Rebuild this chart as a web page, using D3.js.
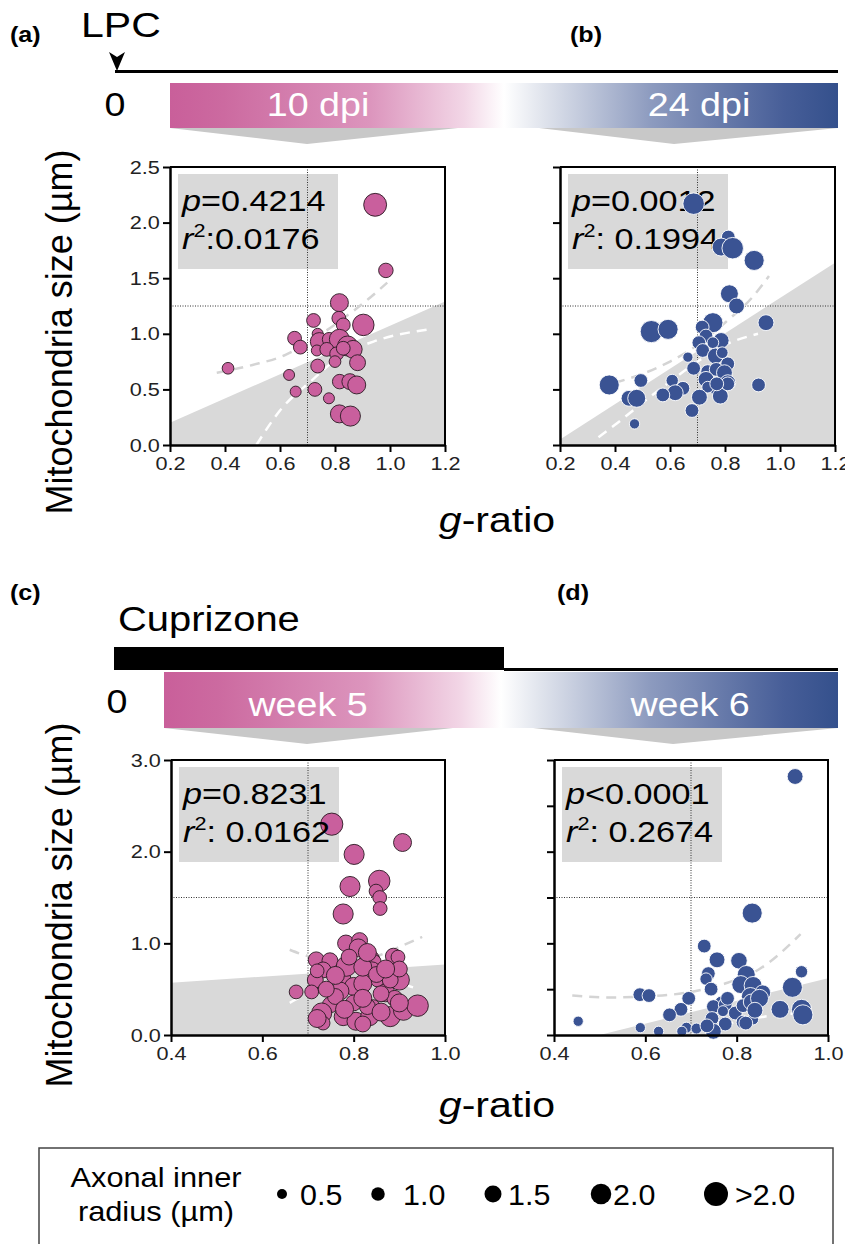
<!DOCTYPE html>
<html>
<head>
<meta charset="utf-8">
<script src="https://cdn.jsdelivr.net/npm/d3@7"></script>
<style>
body { margin: 0; background: #fff; }
svg { display: block; font-family: "Liberation Sans", Arial, sans-serif; }
</style>
</head>
<body>
<script>
// ---- data: [g-ratio, mitochondria size (µm), axonal inner radius (µm)]
const ptsA = [
  [0.946,2.16,2.2],[0.985,1.57,1.0],[0.816,1.28,1.5],[0.814,1.14,0.9],[0.83,1.08,0.9],
  [0.903,1.08,2.0],[0.722,1.12,0.9],[0.737,1.00,0.5],[0.653,0.96,0.9],[0.674,0.88,0.9],
  [0.743,0.93,1.5],[0.779,0.95,0.9],[0.816,0.95,1.8],[0.846,0.89,1.8],[0.866,0.86,1.5],
  [0.734,0.85,0.5],[0.770,0.86,0.9],[0.806,0.82,0.9],[0.800,0.75,0.6],[0.737,0.71,0.9],
  [0.882,0.74,1.2],[0.83,0.87,0.9],[0.633,0.63,0.5],[0.817,0.57,1.0],[0.854,0.57,1.2],
  [0.879,0.54,1.5],[0.657,0.48,0.5],[0.727,0.50,0.9],[0.778,0.42,0.5],[0.816,0.28,1.5],
  [0.856,0.26,1.8],[0.411,0.69,0.6]
];
const ptsB = [
  [0.686,2.17,2.0],[0.812,1.87,0.9],[0.786,1.78,1.5],[0.828,1.77,2.0],[0.906,1.66,1.8],
  [0.816,1.36,1.5],[0.842,1.25,1.2],[0.949,1.10,1.2],[0.532,1.02,2.1],[0.593,1.04,1.8],
  [0.756,1.10,1.8],[0.717,1.06,0.9],[0.731,0.98,0.9],[0.786,0.94,1.2],[0.705,0.92,0.9],
  [0.719,0.85,0.9],[0.756,0.92,0.6],[0.765,0.80,1.2],[0.665,0.79,0.4],[0.686,0.69,0.9],
  [0.810,0.73,0.9],[0.737,0.66,0.9],[0.768,0.68,0.9],[0.798,0.65,1.2],[0.731,0.59,1.2],
  [0.810,0.56,1.2],[0.768,0.51,0.9],[0.737,0.52,0.6],[0.783,0.44,1.2],[0.810,0.55,0.9],
  [0.707,0.43,1.2],[0.680,0.31,0.9],[0.608,0.58,0.7],[0.647,0.51,0.9],[0.619,0.47,1.2],
  [0.574,0.45,0.9],[0.494,0.58,0.9],[0.451,0.42,1.2],[0.479,0.42,1.5],[0.379,0.54,1.8],
  [0.471,0.19,0.4],[0.922,0.54,0.9],[0.790,0.83,0.6],[0.770,0.55,0.9]
];
const ptsC = [
  [0.752,2.30,2.1],[0.907,2.10,1.5],[0.801,1.97,1.8],[0.792,1.62,1.8],[0.856,1.68,2.0],
  [0.849,1.57,0.9],[0.857,1.50,0.9],[0.858,1.38,0.9],[0.777,1.32,1.8],[0.783,1.00,1.3],
  [0.813,1.03,1.2],[0.810,0.95,1.5],[0.718,0.82,1.2],[0.748,0.81,1.2],[0.733,0.71,1.2],
  [0.716,0.60,1.2],[0.708,0.47,0.9],[0.674,0.47,0.9],[0.776,0.61,1.3],[0.784,0.75,1.8],
  [0.835,0.82,1.8],[0.845,0.80,0.9],[0.887,0.86,1.2],[0.897,0.85,0.9],[0.852,0.60,0.9],
  [0.900,0.60,1.8],[0.810,0.46,0.9],[0.840,0.70,1.5],[0.870,0.46,1.5],[0.800,0.53,1.5],
  [0.749,0.33,1.2],[0.730,0.24,1.8],[0.733,0.13,0.9],[0.777,0.20,1.5],[0.720,0.18,1.5],
  [0.805,0.15,1.5],[0.843,0.31,0.9],[0.835,0.20,1.5],[0.880,0.20,1.8],[0.909,0.27,1.8],
  [0.940,0.32,2.0],[0.890,0.40,1.2],[0.820,0.56,1.5],[0.770,0.48,1.5],[0.820,0.74,1.5],
  [0.760,0.42,1.2],[0.860,0.45,1.2],[0.830,0.31,1.2],[0.800,0.35,1.2],[0.760,0.65,1.5],
  [0.880,0.60,1.2],[0.830,0.90,1.5],[0.790,0.85,1.2],[0.850,0.66,1.2],[0.740,0.50,1.2],
  [0.780,0.28,1.5],[0.860,0.25,1.5],[0.820,0.12,1.2],[0.900,0.72,1.2],[0.870,0.72,1.5],
  [0.720,0.70,0.9],[0.820,0.40,1.5],[0.900,0.35,1.5]
];
const ptsD = [
  [0.928,2.82,1.2],[0.834,1.33,1.8],[0.729,0.97,0.9],[0.757,0.82,1.2],[0.805,0.81,1.3],
  [0.821,0.66,1.5],[0.942,0.69,0.7],[0.738,0.67,0.9],[0.733,0.61,0.7],[0.809,0.55,1.5],
  [0.836,0.54,1.5],[0.857,0.46,1.2],[0.922,0.52,1.8],[0.744,0.50,0.9],[0.830,0.42,1.5],
  [0.588,0.44,0.9],[0.608,0.43,0.9],[0.695,0.40,0.9],[0.678,0.28,0.9],[0.653,0.22,0.9],
  [0.767,0.35,0.9],[0.749,0.31,0.9],[0.775,0.33,0.9],[0.797,0.24,0.9],[0.814,0.32,0.9],
  [0.832,0.36,1.2],[0.895,0.28,1.5],[0.942,0.28,1.8],[0.945,0.22,1.8],[0.770,0.26,0.5],
  [0.746,0.18,0.9],[0.775,0.12,0.9],[0.814,0.14,0.9],[0.836,0.17,0.5],[0.690,0.08,0.5],
  [0.712,0.07,0.5],[0.749,0.04,1.2],[0.680,0.04,0.4],[0.629,0.04,0.4],[0.589,0.08,0.4],
  [0.453,0.15,0.4],[0.735,0.10,0.9],[0.820,0.13,0.9],[0.780,0.40,0.9],[0.850,0.40,1.5],
  [0.840,0.27,1.2]
];

// grey shaded region (upper edge)
const shadeA = [[0.2,0.20],[1.2,1.29]];
const shadeB = [[0.2,0.05],[1.2,1.64]];
const shadeC = [[0.4,0.57],[1.0,0.77]];
const shadeD = [[0.5,0.00],[1.0,0.62]];

// dashed confidence bands
const ciUpA = [[0.37,0.65],[0.5,0.72],[0.62,0.81],[0.72,0.95],[0.82,1.12],[0.92,1.31],[0.99,1.46]];
const ciLoA = [[0.514,0.0],[0.6,0.31],[0.72,0.59],[0.82,0.80],[0.94,0.93],[1.14,1.04]];
const ciUpB = [[0.40,0.56],[0.5,0.64],[0.6,0.75],[0.7,0.9],[0.8,1.1],[0.9,1.33],[0.96,1.52]];
const ciLoB = [[0.34,0.07],[0.42,0.22],[0.5,0.38],[0.6,0.57],[0.7,0.75],[0.8,0.9],[0.92,1.0]];
const ciUpC = [[0.66,0.93],[0.7,0.86],[0.75,0.82],[0.8,0.82],[0.85,0.86],[0.9,0.96],[0.95,1.07]];
const ciLoC = [[0.66,0.35],[0.72,0.5],[0.8,0.58],[0.87,0.58],[0.93,0.52]];
const ciUpD = [[0.44,0.43],[0.52,0.41],[0.6,0.42],[0.7,0.47],[0.78,0.57],[0.85,0.72],[0.94,1.1]];
const ciLoD = [[0.70,0.0],[0.78,0.12],[0.86,0.2],[0.94,0.24]];

const xTicksTop = [0.2,0.4,0.6,0.8,1.0,1.2];
const yTicksTop = [0,0.5,1.0,1.5,2.0,2.5];
const xTicksBot = [0.4,0.6,0.8,1.0];
const yTicksC = [0,1,2,3];
const yTicksD = [0,0.5,1.0,1.5,2.0,2.5,3.0];

const stats = [
  {p: "=0.4214", r: ":0.0176"},
  {p: "=0.0012", r: ": 0.1994"},
  {p: "=0.8231", r: ": 0.0162"},
  {p: "<0.0001", r: ": 0.2674"}
];

const timeLabelsTop = ["10 dpi", "24 dpi"];
const timeLabelsBot = ["week 5", "week 6"];

const legendValues = [0.5, 1.0, 1.5, 2.0, 2.5];
const legendLabels = ["0.5", "1.0", "1.5", "2.0", ">2.0"];

// ---- styles
const pink = "#c95f9d", blue = "#3a5393", shadeGrey = "#d9d9d9";
const SX = 1.14; // horizontal stretch of the original lettering

const svg = d3.select("body").append("svg")
  .attr("width", 845).attr("height", 1244);
const defs = svg.append("defs");

const rScale = d3.scaleLinear().domain([0.5, 2.5]).range([5.5, 12.5]);

// horizontal text helper
function htext(parent, x, y, size, anchor) {
  return parent.append("text")
    .attr("transform", `translate(${x},${y}) scale(${SX},1)`)
    .attr("text-anchor", anchor || "start")
    .style("font-size", size + "px");
}

//Gradient for time bars
const grad = defs.append("linearGradient").attr("id", "timegrad");
[[0, "#c95f9a"], [0.08, "#cc6aa0"], [0.3, "#dc95bd"], [0.44, "#f2d6e6"], [0.5, "#ffffff"],
 [0.56, "#dfe3ec"], [0.72, "#8d9bbf"], [0.92, "#475e98"], [1, "#34508c"]]
  .forEach(s => grad.append("stop").attr("offset", s[0]).attr("stop-color", s[1]));

function timeBar(y0, y1, x0, labels, centers, apexes, chevX) {
  svg.append("rect").attr("x", x0).attr("y", y0).attr("width", 838 - x0).attr("height", y1 - y0)
    .attr("fill", "url(#timegrad)");
  labels.forEach((t, i) => {
    htext(svg, centers[i], y1 - 12, 33, "middle").attr("fill", "#fff").text(t);
  });
  chevX.forEach((c, i) => {
    svg.append("path")
      .attr("d", `M${c[0]},${y1} L${c[1]},${y1} L${apexes[i]},${y1 + 16} Z`)
      .attr("fill", "#c8c8c8");
  });
}

//Header top
htext(svg, 10, 42, 22).style("font-weight", "bold").text("(a)");
htext(svg, 570, 42, 22).style("font-weight", "bold").text("(b)");
htext(svg, 81, 37, 36).text("LPC");
svg.append("path").attr("d", "M109,52 L117,57 L125,52 L117,71 Z").attr("fill", "#000");
svg.append("line").attr("x1", 115).attr("x2", 838).attr("y1", 71.5).attr("y2", 71.5)
  .attr("stroke", "#000").attr("stroke-width", 3);
htext(svg, 115, 116, 33, "middle").text("0");
timeBar(83, 128, 170, timeLabelsTop, [318, 699], [307, 674], [[170, 458], [539, 838]]);

//Header bottom
htext(svg, 10, 600, 22).style("font-weight", "bold").text("(c)");
htext(svg, 557, 600, 22).style("font-weight", "bold").text("(d)");
htext(svg, 118, 631, 35).text("Cuprizone");
svg.append("rect").attr("x", 114).attr("y", 647).attr("width", 390).attr("height", 23).attr("fill", "#000");
svg.append("line").attr("x1", 504).attr("x2", 838).attr("y1", 669.5).attr("y2", 669.5)
  .attr("stroke", "#000").attr("stroke-width", 3);
htext(svg, 117, 713, 33, "middle").text("0");
timeBar(672, 728, 164, timeLabelsBot, [308, 690], [307, 673], [[164, 453], [533, 838]]);

// ---- panels
const panels = [
  {id: "a", pts: ptsA, left: 170, right: 445, top: 167, bottom: 445, xDom: [0.2, 1.2], yDom: [0, 2.5],
   xTicks: xTicksTop, yTicks: yTicksTop, yLab: true, vLine: 0.7, hLine: 1.25, shade: shadeA,
   ciUp: ciUpA, ciLo: ciLoA, fill: pink, stroke: "#2a1a22", st: stats[0], textTop: false},
  {id: "b", pts: ptsB, left: 560, right: 835, top: 167, bottom: 445, xDom: [0.2, 1.2], yDom: [0, 2.5],
   xTicks: xTicksTop, yTicks: yTicksTop, yLab: false, vLine: 0.7, hLine: 1.25, shade: shadeB,
   ciUp: ciUpB, ciLo: ciLoB, fill: blue, stroke: "#fff", st: stats[1], textTop: false},
  {id: "c", pts: ptsC, left: 171, right: 445, top: 760, bottom: 1035, xDom: [0.4, 1.0], yDom: [0, 3],
   xTicks: xTicksBot, yTicks: yTicksC, yLab: true, vLine: 0.7, hLine: 1.5, shade: shadeC,
   ciUp: ciUpC, ciLo: ciLoC, fill: pink, stroke: "#2a1a22", st: stats[2], textTop: true},
  {id: "d", pts: ptsD, left: 554, right: 828, top: 760, bottom: 1035, xDom: [0.4, 1.0], yDom: [0, 3],
   xTicks: xTicksBot, yTicks: yTicksD, yLab: false, vLine: 0.7, hLine: 1.5, shade: shadeD,
   ciUp: ciUpD, ciLo: ciLoD, fill: blue, stroke: "#fff", st: stats[3], textTop: false}
];

panels.forEach(p => {
  const x = d3.scaleLinear().domain(p.xDom).range([p.left, p.right]);
  const y = d3.scaleLinear().domain(p.yDom).range([p.bottom, p.top]);
  const g = svg.append("g");

  defs.append("clipPath").attr("id", "clip-" + p.id).append("rect")
    .attr("x", p.left).attr("y", p.top).attr("width", p.right - p.left).attr("height", p.bottom - p.top);

  //shaded region
  g.append("path").datum(p.shade)
    .attr("clip-path", `url(#clip-${p.id})`)
    .attr("fill", shadeGrey)
    .attr("d", d3.area().x(d => x(d[0])).y0(y(0)).y1(d => y(d[1])));

  //stats box
  g.append("rect").attr("x", p.left + 8).attr("y", p.top + 7)
    .attr("width", 160).attr("height", 95).attr("fill", shadeGrey);

  //dotted reference lines
  g.append("line").attr("x1", x(p.vLine)).attr("x2", x(p.vLine)).attr("y1", p.top).attr("y2", p.bottom)
    .attr("stroke", "#333").attr("stroke-width", 1).attr("stroke-dasharray", "1,1.5");
  g.append("line").attr("x1", p.left).attr("x2", p.right).attr("y1", y(p.hLine)).attr("y2", y(p.hLine))
    .attr("stroke", "#333").attr("stroke-width", 1).attr("stroke-dasharray", "1,1.5");

  //confidence bands
  const line = d3.line().x(d => x(d[0])).y(d => y(d[1])).curve(d3.curveMonotoneX);
  g.append("path").datum(p.ciUp).attr("d", line).attr("fill", "none")
    .attr("stroke", "#d4d4d4").attr("stroke-width", 2.5).attr("stroke-dasharray", "10,7");
  g.append("path").datum(p.ciLo).attr("d", line).attr("fill", "none")
    .attr("stroke", "#ffffff").attr("stroke-width", 2.5).attr("stroke-dasharray", "10,7");

  const drawText = () => {
    const t1 = htext(g, p.left + 12, p.top + 44, 30);
    t1.append("tspan").style("font-style", "italic").text("p");
    t1.append("tspan").text(p.st.p);
    const t2 = htext(g, p.left + 12, p.top + 82, 30);
    t2.append("tspan").style("font-style", "italic").text("r");
    t2.append("tspan").attr("dy", -12).style("font-size", "19px").text("2");
    t2.append("tspan").attr("dy", 12).text(p.st.r);
  };
  const drawDots = () => {
    g.append("g").selectAll("circle")
      .data(p.pts).enter().append("circle")
      .attr("cx", d => x(d[0])).attr("cy", d => y(d[1]))
      .attr("r", d => rScale(d[2]))
      .attr("fill", p.fill).attr("stroke", p.stroke).attr("stroke-width", 0.9);
  };
  if (p.textTop) { drawDots(); drawText(); } else { drawText(); drawDots(); }

  //frame top/right
  g.append("path").attr("d", `M${p.left},${p.top} H${p.right} V${p.bottom}`)
    .attr("fill", "none").attr("stroke", "#000").attr("stroke-width", 2);

  //axes
  const xAxis = d3.axisBottom(x).tickValues(p.xTicks).tickFormat(d3.format(".1f"))
    .tickSize(7).tickSizeOuter(0).tickPadding(5);
  const yAxis = d3.axisLeft(y).tickValues(p.yTicks)
    .tickFormat(p.yLab ? d3.format(".1f") : "")
    .tickSize(7).tickSizeOuter(0).tickPadding(3);
  const xa = g.append("g").attr("transform", `translate(0,${p.bottom})`).call(xAxis);
  const ya = g.append("g").attr("transform", `translate(${p.left},0)`).call(yAxis);
  [xa, ya].forEach(a => {
    a.select(".domain").attr("stroke", "#000").attr("stroke-width", 2.5);
    a.selectAll(".tick line").attr("stroke", "#000").attr("stroke-width", 2);
    a.selectAll(".tick text").attr("fill", "#222").style("font-size", "19px")
      .style("font-family", "'Liberation Sans', Arial, sans-serif");
  });
  xa.selectAll(".tick text").attr("transform", `scale(${SX},1)`);
  ya.selectAll(".tick text").attr("x", -9).attr("transform", `scale(${SX},1)`);
});

//Axis titles
[332, 905].forEach(cy => {
  svg.append("text").attr("transform", `translate(72,${cy}) rotate(-90)`)
    .attr("text-anchor", "middle").style("font-size", "36px").text("Mitochondria size (µm)");
});
[532, 1117].forEach(by => {
  const t = htext(svg, 497, by, 36, "middle");
  t.append("tspan").style("font-style", "italic").text("g");
  t.append("tspan").text("-ratio");
});

//Legend
svg.append("rect").attr("x", 39).attr("y", 1148).attr("width", 794).attr("height", 110)
  .attr("fill", "none").attr("stroke", "#444").attr("stroke-width", 1.5);
htext(svg, 156, 1187, 27, "middle").text("Axonal inner");
htext(svg, 156, 1221, 27, "middle").text("radius (µm)");
const legDotX = [282, 378, 493, 601, 716];
const legTextX = [300, 403, 508, 613, 735];
const leg = svg.append("g").selectAll("g").data(legendValues).enter().append("g");
leg.append("circle").attr("cx", (d, i) => legDotX[i]).attr("cy", 1194)
  .attr("r", d => rScale(d) - 0.5).attr("fill", "#000");
leg.append("text")
  .attr("transform", (d, i) => `translate(${legTextX[i]},1205) scale(1.05,1)`)
  .style("font-size", "29px").text((d, i) => legendLabels[i]);
</script>
</body>
</html>
